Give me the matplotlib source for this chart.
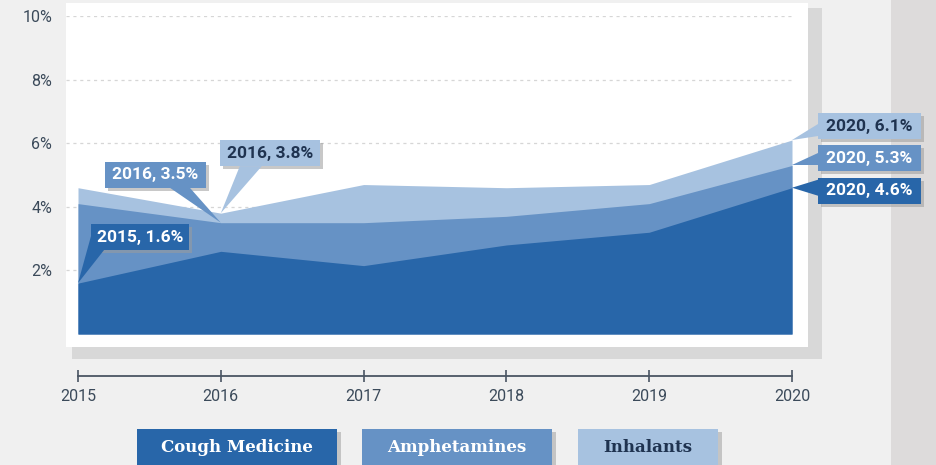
import matplotlib.pyplot as plt
from matplotlib.patches import Rectangle, Polygon
from matplotlib.transforms import IdentityTransform

# data
years = [2015, 2016, 2017, 2018, 2019, 2020]
series_names = ["Cough Medicine", "Amphetamines", "Inhalants"]
cough = [1.6, 2.6, 2.15, 2.8, 3.2, 4.6]
amphet = [4.1, 3.5, 3.5, 3.7, 4.1, 5.3]
inhal = [4.6, 3.8, 4.7, 4.6, 4.7, 6.1]
y_ticks = [2, 4, 6, 8, 10]

colors = ["#2866a9", "#6692c5", "#a7c2e0"]
text_colors = ["white", "white", "#1f3350"]
values = [cough, amphet, inhal]

W, H = 936, 465
fig = plt.figure(figsize=(W / 100, H / 100), dpi=100)
fig.patch.set_facecolor("#f0f0f0")


def px_rect(x0, y0, x1, y1, color, z=0):
    """Rectangle given in image pixels (y down), drawn in figure coords."""
    fig.patches.append(Rectangle((x0 / W, 1 - y1 / H), (x1 - x0) / W, (y1 - y0) / H,
                                 transform=fig.transFigure, color=color, zorder=z,
                                 lw=0))


# background panel, shadow, right stripe
px_rect(891, -5, 940, 470, "#dddbdb", z=-3)
px_rect(72, 8, 822, 359, "#d8d8d8", z=-2)
px_rect(66, 3, 808, 347, "white", z=-1)

# axes: 0% at y=334, 10% at y=16, 2015 at x=78, 2020 at x=792
ax_l, ax_r, ax_t, ax_b = 66, 792, 16, 334
ax = fig.add_axes([ax_l / W, 1 - ax_b / H, (ax_r - ax_l) / W, (ax_b - ax_t) / H])
ax.set_zorder(1)
ax.patch.set_alpha(0)
per_year = (792 - 78) / (years[-1] - years[0])
ax.set_xlim(years[0] - (78 - ax_l) / per_year, years[-1])
ax.set_ylim(0, 10)

for yv in y_ticks:
    ax.axhline(yv, color="#d6d6d6", lw=0.9, ls=(0, (2.5, 3)), zorder=0)

# areas overlap from zero, light drawn first
for i in [2, 1, 0]:
    ax.fill_between(years, 0, values[i], color=colors[i], lw=0, zorder=2)

for s in ["top", "right", "left"]:
    ax.spines[s].set_visible(False)
ax.spines["bottom"].set_position(("outward", 42 * 0.72))
ax.spines["bottom"].set_bounds(years[0], years[-1])
ax.spines["bottom"].set_color("#4a5563")
ax.spines["bottom"].set_linewidth(1.3)
ax.set_xticks(years)
ax.set_xticklabels([str(y) for y in years])
ax.tick_params(axis="x", direction="inout", length=8.6, width=1.2, color="#4a5563",
               pad=5, labelsize=11.5, labelcolor="#3b4a5a")
ax.set_yticks(y_ticks)
ax.set_yticklabels([f"{v}%" for v in y_ticks])
ax.tick_params(axis="y", length=0, pad=10, labelsize=11.5, labelcolor="#3b4a5a")
for lab in ax.get_xticklabels() + ax.get_yticklabels():
    lab.set_family("Roboto")

# callouts: (series, year index, box dx, box dy, box w, pointer base pts), offsets in px, y down
callouts = [
    (2, 1, -1, -73, 100, [(19, -47), (41, -47)]),
    (1, 1, -116, -61, 101, [(-51, -35), (-31, -35)]),
    (0, 0, 13, -59, 98, [(13, -47), (26, -33)]),
    (2, 5, 26, -27, 103, [(26, -16), (26, -4)]),
    (1, 5, 26, -20, 103, [(26, -12), (26, 0)]),
    (0, 5, 26, -10, 103, [(26, -8), (26, 8)]),
]
box_h = 26
idt = IdentityTransform()
for si, yi, dx, dy, bw, base in callouts:
    ax_px, ay_px = ax.transData.transform((years[yi], values[si][yi]))

    def P(ox, oy):
        return (ax_px + ox, ay_px - oy)

    x0, y0 = P(dx, dy + box_h)
    ax.add_patch(Rectangle((x0 + 3, y0 - 3), bw, box_h, transform=idt, color="#9c9c9c",
                           alpha=0.55, lw=0, zorder=5, clip_on=False))
    ax.add_patch(Polygon([P(*base[0]), P(*base[1]), P(0, 0)], closed=True, transform=idt,
                         color=colors[si], lw=0, zorder=6, clip_on=False))
    ax.add_patch(Rectangle((x0, y0), bw, box_h, transform=idt, color=colors[si],
                           lw=0, zorder=6, clip_on=False))
    ax.text(x0 + bw / 2, y0 + box_h / 2, f"{years[yi]}, {values[si][yi]:g}%",
            transform=idt, ha="center", va="center", fontsize=12.5, fontweight="bold",
            color=text_colors[si], zorder=7, family="Roboto")

# legend boxes
legend_boxes = [(137, 337), (362, 552), (578, 718)]
for i, (lx0, lx1) in enumerate(legend_boxes):
    px_rect(lx0 + 4, 432, lx1 + 4, 470, "#c4c4c4", z=1)
    px_rect(lx0, 429, lx1, 470, colors[i], z=2)
    fig.text((lx0 + lx1) / 2 / W, 1 - 447 / H, series_names[i], ha="center", va="center",
             fontsize=12, fontweight="bold", family="DejaVu Serif", color=text_colors[i],
             zorder=3)

fig.savefig("out.png", dpi=100)
